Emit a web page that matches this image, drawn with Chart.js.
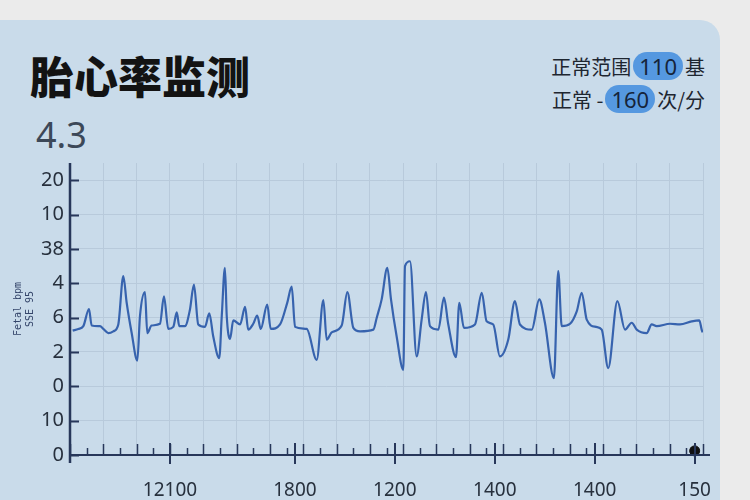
<!DOCTYPE html>
<html>
<head>
<meta charset="utf-8">
<script src="https://cdn.jsdelivr.net/npm/chart.js@4/dist/chart.umd.min.js"></script>
<style>
  body { margin: 0; background: #ebebeb; font-family: "Noto Sans CJK SC", "Noto Sans", sans-serif; }
  #wrap { position: relative; width: 750px; height: 500px; overflow: hidden; }
  .card { position: absolute; left: -20px; top: 20px; width: 740px; height: 520px; border-radius: 20px; background: #c9dbea; }
  .title { position: absolute; left: 30px; top: 52px; font-size: 44px; line-height: 46px; font-weight: 900; color: #131313; }
  .value { position: absolute; left: 36px; top: 115px; font-family: "Noto Sans", sans-serif; font-size: 36px; line-height: 40px; color: #3c4858; }
  .range { position: absolute; right: 45px; font-size: 20px; line-height: 28px; color: #1e2630; text-align: right; white-space: nowrap; }
  .pill { display: inline-block; background: #5598e0; border-radius: 14px; padding: 1px 6px; margin: 0 2px; font-family: "Noto Sans", sans-serif; font-size: 22px; line-height: 26px; color: #15243a; }
  canvas { position: absolute; left: 0; top: 0; }
</style>
</head>
<body>
<div id="wrap">
  <div class="card"></div>
  <div class="title">胎心率监测</div>
  <div class="value">4.3</div>
  <div class="range" style="top:52px">正常范围<span class="pill">110</span>基</div>
  <div class="range" style="top:85px">正常 -<span class="pill">160</span>次/分</div>
  <canvas id="myChart" width="750" height="500"></canvas>
</div>
<script>
const canvas = document.getElementById('myChart');
const ctx = canvas.getContext('2d');

// tick labels (bottom to top for y)
const yTickLabels = ['0', '10', '0', '2', '6', '4', '38', '10', '20'];
const xTickValues = [60, 135, 195, 255, 315, 375];
const xTickLabels = ['12100', '1800', '1200', '1400', '1400', '150'];
const yTitleLines = ['Fetal bpm', 'SSE 95'];

// trace
const traceX = [1.6, 5, 8, 11.4, 13, 18, 20, 23, 26, 29, 32, 34, 37, 40.4, 42, 45, 46.4, 49, 54, 56.4,
    59, 62, 64.1, 65.6, 69, 72, 74.4, 77, 81, 83.6, 86, 89.6, 91.1, 93, 94.1, 96.1, 98, 102.1, 105.1, 107,
    110, 112.4, 114.5, 118.4, 120.5, 126.1, 130.4, 133.1, 135.1, 142.1, 148.1, 152.1, 154.1, 157.1, 163.1, 166.5, 170.1, 174.1, 182.1, 184.1,
    187.1, 190.5, 192.7, 196.1, 200.1, 201.1, 204.1, 208.1, 211.1, 213.7, 216.1, 221.1, 224.5, 227.1, 231.7, 233.7, 236.5, 243.1, 247.2, 250.1,
    254.1, 258.1, 263.1, 267.1, 270.1, 277.2, 281.7, 285.1, 290.5, 293.1, 295.2, 300.2, 304.2, 307.2, 310.2, 315.8, 319.2, 323.1, 328.6, 333.2,
    337.2, 340.2, 346.2, 349.2, 352.2, 360.2, 366.2, 373.2, 377.8, 379.2, 379.8];
const traceY = [3.62, 3.67, 3.75, 4.25, 3.77, 3.75, 3.67, 3.55, 3.6, 3.8, 5.21, 4.44, 3.56, 2.75, 4.04, 4.74, 3.55, 3.77, 3.82, 4.62,
    3.67, 3.73, 4.15, 3.75, 3.75, 4.23, 4.96, 3.8, 3.73, 4.12, 3.45, 2.82, 4.04, 5.45, 4.04, 3.38, 3.92, 3.8, 4.31, 3.65,
    3.82, 4.06, 3.67, 4.38, 3.67, 3.8, 4.43, 4.9, 3.73, 3.67, 2.77, 4.51, 3.36, 3.57, 3.77, 4.74, 3.7, 3.6, 3.65, 3.99,
    4.53, 5.45, 4.53, 3.45, 2.48, 5.5, 5.64, 2.87, 3.94, 4.74, 3.75, 3.65, 4.58, 3.8, 2.85, 4.43, 3.7, 3.8, 4.72, 3.89,
    3.8, 2.87, 3.36, 4.48, 3.8, 3.65, 4.53, 3.85, 2.24, 5.35, 3.75, 3.82, 4.18, 4.72, 3.94, 3.73, 3.65, 2.53, 4.48, 3.65,
    3.85, 3.65, 3.55, 3.8, 3.75, 3.82, 3.8, 3.89, 3.92, 3.65, 3.57];
const markerX = [375];
const markerY = [0.12];

const tracePoints = traceX.map((x, i) => ({x: x, y: traceY[i]}));
const markerPoints = markerX.map((x, i) => ({x: x, y: markerY[i]}));

const axisColor = '#27375a';

// tick marks drawn inside the plot like the reference
const tickMarks = {
    id: 'tickMarks',
    afterDraw(chart) {
        const xs = chart.scales.x;
        const ys = chart.scales.y;
        const c = chart.ctx;
        const base = ys.getPixelForValue(0);
        c.save();
        c.strokeStyle = axisColor;
        c.lineWidth = 1.5;
        for (let v = 0; v <= 380; v += 10) {
            const px = Math.round(xs.getPixelForValue(v)) + 0.5;
            const len = v % 20 === 0 ? 11 : 7;
            c.beginPath();
            c.moveTo(px, base);
            c.lineTo(px, base - len);
            c.stroke();
        }
        c.lineWidth = 2;
        xTickValues.forEach(v => {
            const px = Math.round(xs.getPixelForValue(v));
            c.beginPath();
            c.moveTo(px, base - 12);
            c.lineTo(px, base + 9);
            c.stroke();
        });
        for (let i = 0; i < yTickLabels.length; i++) {
            const py = Math.round(ys.getPixelForValue(i)) + 0.5;
            c.beginPath();
            c.moveTo(xs.left, py);
            c.lineTo(xs.left + 9, py);
            c.stroke();
        }
        // axis lines
        c.lineWidth = 2.5;
        c.beginPath();
        c.moveTo(xs.left, ys.top);
        c.lineTo(xs.left, base + 8);
        c.stroke();
        c.lineWidth = 2;
        c.beginPath();
        c.moveTo(xs.left, base);
        c.lineTo(xs.right + 7, base);
        c.stroke();
        c.restore();
    }
};

let chart = new Chart(ctx, {
    type: 'scatter',
    data: {
        datasets: [{
            data: tracePoints,
            showLine: true,
            borderColor: '#3763ae',
            borderWidth: 2.2,
            pointRadius: 0,
            cubicInterpolationMode: 'monotone',
            fill: false
        }, {
            data: markerPoints,
            pointRadius: 5,
            pointBackgroundColor: '#111',
            pointBorderColor: '#111',
            clip: false
        }]
    },
    options: {
        responsive: false,
        animation: false,
        layout: {padding: {left: 0, right: 47, top: 163, bottom: 0}},
        plugins: {
            legend: {display: false},
            tooltip: {enabled: false}
        },
        scales: {
            x: {
                type: 'linear',
                min: 0,
                max: 380,
                afterBuildTicks: (scale) => {
                    scale.ticks = xTickValues.map(v => ({value: v}));
                },
                afterFit: (scale) => { scale.height = 45; },
                ticks: {
                    autoSkip: false,
                    maxRotation: 0,
                    padding: 16,
                    color: '#27303d',
                    font: {family: 'Noto Sans', size: 19},
                    callback: (value, index) => xTickLabels[index]
                },
                grid: {display: false},
                border: {display: false}
            },
            xg: {
                type: 'linear',
                position: 'top',
                min: 0,
                max: 380,
                afterFit: (scale) => { scale.height = 0; },
                ticks: {display: false, stepSize: 20},
                grid: {color: '#b8cadb', lineWidth: 1, drawTicks: false},
                border: {display: false}
            },
            y: {
                min: 0,
                max: 8.5,
                afterFit: (scale) => { scale.width = 70; },
                afterBuildTicks: (scale) => {
                    scale.ticks = yTickLabels.map((_, i) => ({value: i}));
                },
                ticks: {
                    padding: 6,
                    color: '#27303d',
                    font: {family: 'Noto Sans', size: 20},
                    callback: (value, index) => yTickLabels[index]
                },
                grid: {color: '#b8cadb', lineWidth: 1, drawTicks: false},
                border: {display: false},
                title: {
                    display: true,
                    text: yTitleLines,
                    color: '#34456a',
                    padding: {top: 12, bottom: 0},
                    font: {family: 'DejaVu Sans Mono', size: 10}
                }
            }
        }
    },
    plugins: [tickMarks]
});
</script>
</body>
</html>
